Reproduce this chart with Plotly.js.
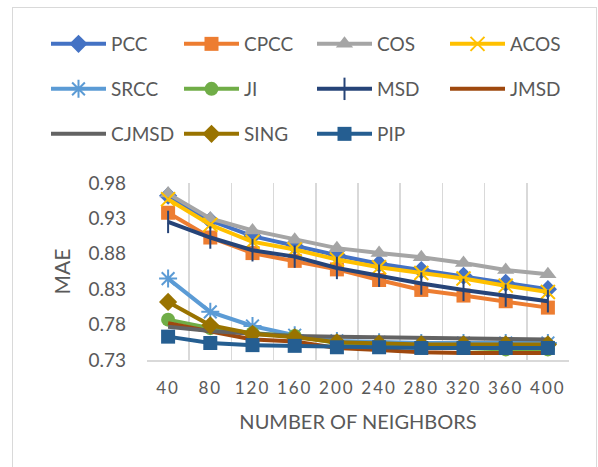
<!DOCTYPE html>
<html>
<head>
<meta charset="utf-8">
<script src="https://cdn.plot.ly/plotly-3.0.1.min.js"></script>
<style>
  html, body { margin: 0; padding: 0; background: #fff; }
  #wrap { position: relative; width: 598px; height: 467px; overflow: hidden; }
  #frame { position: absolute; left: 12px; top: 7px; width: 585px; height: 470px; border: 1px solid #d9d9d9; box-sizing: border-box; pointer-events: none; }
  #chart { position: absolute; left: 0; top: 0; width: 598px; height: 467px; }
  .xtick text { letter-spacing: 2px; }
</style>
</head>
<body>
<div id="wrap">
  <div id="chart"></div>
  <div id="frame"></div>
</div>
<script>
const neighbors = ["40", "80", "120", "160", "200", "240", "280", "320", "360", "400"];
const yTicks = [0.73, 0.78, 0.83, 0.88, 0.93, 0.98];

const PCC   = [0.962, 0.927, 0.905, 0.891, 0.878, 0.866, 0.857, 0.849, 0.839, 0.830];
const CPCC  = [0.938, 0.903, 0.881, 0.870, 0.858, 0.843, 0.829, 0.821, 0.813, 0.804];
const COS   = [0.965, 0.930, 0.913, 0.900, 0.888, 0.881, 0.875, 0.867, 0.857, 0.851];
const ACOS  = [0.957, 0.921, 0.897, 0.886, 0.872, 0.861, 0.853, 0.845, 0.835, 0.826];
const SRCC  = [0.845, 0.798, 0.778, 0.765, 0.757, 0.755, 0.754, 0.754, 0.754, 0.754];
const JI    = [0.787, 0.775, 0.768, 0.764, 0.754, 0.751, 0.749, 0.747, 0.745, 0.745];
const MSD   = [0.925, 0.903, 0.885, 0.876, 0.860, 0.849, 0.838, 0.829, 0.821, 0.813];
const JMSD  = [0.782, 0.770, 0.759, 0.756, 0.747, 0.744, 0.741, 0.740, 0.740, 0.740];
const CJMSD = [0.777, 0.771, 0.767, 0.764, 0.763, 0.762, 0.761, 0.760, 0.759, 0.759];
const SING  = [0.812, 0.779, 0.767, 0.762, 0.755, 0.753, 0.752, 0.752, 0.752, 0.752];
const PIP   = [0.763, 0.754, 0.751, 0.750, 0.748, 0.748, 0.747, 0.747, 0.747, 0.747];

const FONT = 'Lato, "Open Sans", sans-serif';
const TXT = '#595959';
const LW = 4;

function tr(name, y, color, legend, marker) {
  const t = {
    type: 'scatter', x: neighbors, y: y, name: name, legend: legend,
    mode: marker ? 'lines+markers' : 'lines',
    line: { color: color, width: LW },
    hoverinfo: 'skip'
  };
  if (marker) t.marker = marker;
  return t;
}

const data = [
  tr('PCC', PCC, '#4472C4', 'legend', { symbol: 'diamond', size: 14, color: '#4472C4' }),
  tr('CPCC', CPCC, '#ED7D31', 'legend', { symbol: 'square', size: 14, color: '#ED7D31' }),
  tr('COS', COS, '#A5A5A5', 'legend', { symbol: 'triangle-up', size: 15, color: '#A5A5A5' }),
  tr('ACOS', ACOS, '#FFC000', 'legend', { symbol: 'x-thin-open', size: 14, color: '#FFC000', line: { color: '#FFC000', width: 2 } }),
  tr('SRCC', SRCC, '#5B9BD5', 'legend2', { symbol: 'asterisk-open', size: 15, color: '#5B9BD5', line: { color: '#5B9BD5', width: 2 } }),
  tr('JI', JI, '#70AD47', 'legend2', { symbol: 'circle', size: 14, color: '#70AD47' }),
  tr('MSD', MSD, '#264478', 'legend2', { symbol: 'line-ns-open', size: 16, color: '#264478', line: { color: '#264478', width: 2 } }),
  tr('JMSD', JMSD, '#9E480E', 'legend2', null),
  tr('CJMSD', CJMSD, '#636363', 'legend3', null),
  tr('SING', SING, '#997300', 'legend3', { symbol: 'diamond', size: 14, color: '#997300' }),
  tr('PIP', PIP, '#255E91', 'legend3', { symbol: 'square', size: 14, color: '#255E91' })
];

const plotL = 147, plotR = 569, plotT = 183, plotB = 360;
const pw = plotR - plotL, ph = plotB - plotT;
function px2x(px) { return (px - plotL) / pw; }
function py2y(py) { return (plotB - py) / ph; }

function legendAt(rowY) {
  return {
    orientation: 'h', x: px2x(46), xanchor: 'left', y: py2y(rowY), yanchor: 'middle',
    entrywidth: 63, entrywidthmode: 'pixels', itemwidth: 55,
    font: { family: FONT, size: 19, color: TXT }, bgcolor: 'rgba(0,0,0,0)',
    itemclick: false, itemdoubleclick: false
  };
}

const layout = {
  width: 598, height: 467,
  margin: { l: plotL, r: 598 - plotR, t: plotT, b: 467 - plotB, pad: 0 },
  paper_bgcolor: '#ffffff', plot_bgcolor: '#ffffff',
  font: { family: FONT, color: TXT },
  showlegend: true,
  legend: legendAt(44),
  legend2: legendAt(89),
  legend3: legendAt(134),
  xaxis: {
    type: 'category', range: [-0.5, 9.5], tickson: 'boundaries',
    showgrid: true, gridcolor: '#d9d9d9', gridwidth: 1.5,
    showline: true, linecolor: '#d9d9d9', linewidth: 1.5,
    ticks: '', ticklabelstandoff: 12,
    tickfont: { family: FONT, size: 17, color: TXT },
    title: { text: 'NUMBER OF NEIGHBORS', font: { family: FONT, size: 20, color: TXT }, standoff: 18 },
    automargin: false, fixedrange: true
  },
  yaxis: {
    range: [0.73, 0.98], tickvals: yTicks, tickformat: '.2f',
    showgrid: false, zeroline: false, showline: false,
    ticks: '', ticklabelstandoff: 20,
    tickfont: { family: FONT, size: 19, color: TXT },
    title: { text: 'MAE', font: { family: FONT, size: 21, color: TXT }, standoff: 12 },
    automargin: false, fixedrange: true
  }
};

Plotly.newPlot('chart', data, layout, { staticPlot: true, displayModeBar: false });
</script>
</body>
</html>
